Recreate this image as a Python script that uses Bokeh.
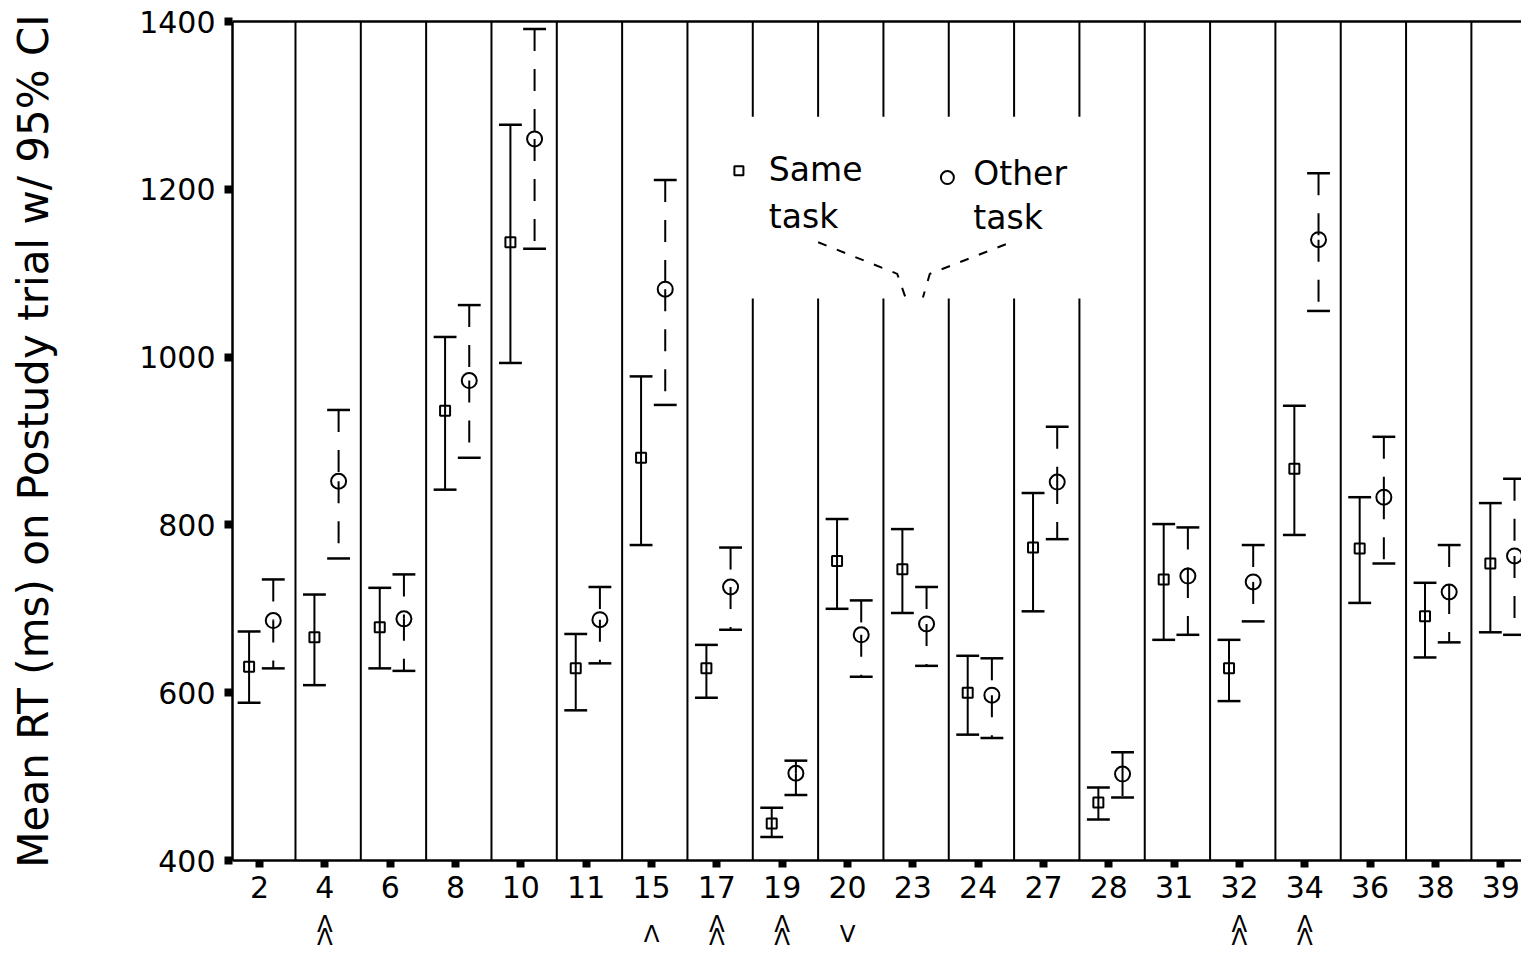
from bokeh.plotting import figure
from bokeh.models import FixedTicker, LinearAxis, Range1d
from bokeh.layouts import column
from bokeh.core.properties import value
from bokeh.embed import file_html
from bokeh.resources import INLINE

FONT = "DejaVu Sans"

# ---------------- data ----------------
cats = ["2", "4", "6", "8", "10", "11", "15", "17", "19", "20",
        "23", "24", "27", "28", "31", "32", "34", "36", "38", "39"]

same_mean = [631, 666, 678, 936, 1137, 629, 880, 629, 444, 757,
             747, 600, 773, 469, 735, 629, 867, 772, 691, 754]
same_hi = [673, 717, 725, 1024, 1277, 670, 977, 657, 463, 807,
           795, 644, 838, 487, 801, 663, 942, 833, 731, 826]
same_lo = [588, 609, 629, 842, 993, 579, 776, 594, 428, 700,
           695, 550, 697, 449, 663, 590, 788, 707, 642, 672]

other_mean = [686, 852, 688, 972, 1260, 687, 1081, 726, 504, 669,
              682, 597, 851, 503, 739, 732, 1140, 833, 720, 763]
other_hi = [735, 937, 741, 1062, 1391, 726, 1211, 773, 519, 710,
            726, 641, 917, 529, 797, 776, 1219, 905, 776, 855]
other_lo = [629, 760, 626, 880, 1129, 635, 943, 675, 478, 619,
            632, 546, 783, 475, 669, 685, 1055, 754, 660, 669]

# significance marks shown under the category labels
marks = ["", "ΛΛ", "", "", "", "", "Λ", "ΛΛ", "ΛΛ", "V",
         "", "", "", "", "", "ΛΛ", "ΛΛ", "", "", ""]

y_ticks = [400, 600, 800, 1000, 1200, 1400]

# ---------------- layout helpers (reference px -> data, for legend placement) ----------------
def sx(px):
    return (px - 259.4) / 66.14

def sy(py):
    return 400 + (871 - py) / 0.8495

n = len(cats)
idx = list(range(n))
xs_same = [i - 0.16 for i in idx]
xs_other = [i + 0.21 for i in idx]
cap = 0.175

W = 1521
x_range = Range1d(-0.414, 19.317)

p = figure(width=W, height=910,
           x_range=x_range, y_range=Range1d(400, 1400),
           output_backend="svg", toolbar_location=None,
           min_border_left=232, min_border_right=0,
           min_border_top=21, min_border_bottom=50,
           outline_line_color=None, background_fill_color="white",
           border_fill_color="white")
p.xgrid.visible = False
p.ygrid.visible = False

for ax in (p.xaxis[0], p.yaxis[0]):
    ax.axis_line_width = 2.5
    ax.axis_line_color = "black"
    ax.major_tick_in = 0
    ax.major_tick_line_width = 8
    ax.major_tick_line_color = "black"
    ax.minor_tick_line_color = None
    ax.major_label_text_font = FONT
    ax.major_label_text_font_size = "30px"
    ax.major_label_text_color = "black"

p.xaxis.ticker = FixedTicker(ticks=idx)
p.xaxis.major_label_overrides = {i: c for i, c in enumerate(cats)}
p.xaxis.major_tick_out = 7
p.xaxis.major_label_standoff = 8

p.yaxis.ticker = FixedTicker(ticks=y_ticks)
p.yaxis.major_tick_out = 8
p.yaxis.major_label_standoff = 9
p.yaxis.axis_label = "Mean RT (ms) on Postudy trial w/ 95% CI"
p.yaxis.axis_label_text_font = FONT
p.yaxis.axis_label_text_font_size = "42px"
p.yaxis.axis_label_text_font_style = "normal"
p.yaxis.axis_label_text_color = "black"
p.yaxis.axis_label_standoff = 78

top_axis = LinearAxis(ticker=FixedTicker(ticks=[]), major_label_text_font_size="0px",
                      major_tick_line_color=None, minor_tick_line_color=None,
                      major_label_standoff=0, axis_line_width=2.5, axis_line_color="black")
p.add_layout(top_axis, "above")

# separators between categories
sep_x = [i + 0.55 for i in range(n - 1)]
p.segment(x0=sep_x, y0=[y_ticks[0]] * len(sep_x), x1=sep_x, y1=[y_ticks[-1]] * len(sep_x),
          line_color="black", line_width=2)

# legend box (white) covering separators
p.quad(left=[sx(722)], right=[sx(1110)], top=[sy(118)], bottom=[sy(302)],
       fill_color="white", line_color=None)
p.scatter(x=[sx(744.7)], y=[sy(172.5)], marker="square", size=9,
          fill_color=None, line_color="black", line_width=2)
p.scatter(x=[sx(955.8)], y=[sy(179.5)], marker="circle", size=13,
          fill_color=None, line_color="black", line_width=2)
p.text(x=[sx(775), sx(775), sx(982), sx(982)],
       y=[sy(171.5), sy(218.5), sy(175.5), sy(219.5)],
       text=["Same", "task", "Other", "task"],
       text_font=value(FONT), text_font_size="33px", text_color="black",
       text_align="left", text_baseline="middle")
p.line(x=[sx(825), sx(905), sx(913)], y=[sy(245), sy(277), sy(300)],
       line_color="black", line_width=2, line_dash="9 11")
p.line(x=[sx(1015), sx(938), sx(931)], y=[sy(247), sy(277), sy(301)],
       line_color="black", line_width=2, line_dash="9 11")

# Same task: solid error bars
p.segment(x0=xs_same, y0=same_lo, x1=xs_same, y1=same_hi, line_color="black", line_width=2)
p.segment(x0=[x - cap for x in xs_same], y0=same_hi, x1=[x + cap for x in xs_same], y1=same_hi,
          line_color="black", line_width=2.5)
p.segment(x0=[x - cap for x in xs_same], y0=same_lo, x1=[x + cap for x in xs_same], y1=same_lo,
          line_color="black", line_width=2.5)
p.scatter(x=xs_same, y=same_mean, marker="square", size=10,
          fill_color=None, line_color="black", line_width=2)

# Other task: dashed error bars
p.segment(x0=xs_other, y0=other_hi, x1=xs_other, y1=other_mean, line_color="black",
          line_width=2, line_dash="22 18")
p.segment(x0=xs_other, y0=other_mean, x1=xs_other, y1=other_lo, line_color="black",
          line_width=2, line_dash="22 18")
p.segment(x0=[x - cap for x in xs_other], y0=other_hi, x1=[x + cap for x in xs_other], y1=other_hi,
          line_color="black", line_width=2.5)
p.segment(x0=[x - cap for x in xs_other], y0=other_lo, x1=[x + cap for x in xs_other], y1=other_lo,
          line_color="black", line_width=2.5)
p.scatter(x=xs_other, y=other_mean, marker="circle", size=15,
          fill_color=None, line_color="black", line_width=2)

# ---------------- strip under the axis with the significance marks ----------------
H2 = 40
p2 = figure(width=W, height=H2, x_range=x_range, y_range=Range1d(0, H2),
            x_axis_type=None, y_axis_type=None,
            output_backend="svg", toolbar_location=None,
            min_border_left=232, min_border_right=0, min_border_top=0, min_border_bottom=0,
            outline_line_color=None, background_fill_color="white", border_fill_color="white")
p2.grid.visible = False

mx, my, mt = [], [], []
for i, m in enumerate(marks):
    if len(m) == 2:
        for ch, b in zip(m, [26.5, 13.5]):
            mx.append(i); my.append(b); mt.append(ch)
    elif len(m) == 1:
        mx.append(i); my.append(16.5); mt.append(m)
p2.text(x=mx, y=my, text=mt, text_font=value(FONT), text_font_size="23px",
        text_color="black", text_align="center", text_baseline="middle")

open("out.html", "w").write(file_html(column(p, p2), INLINE))
